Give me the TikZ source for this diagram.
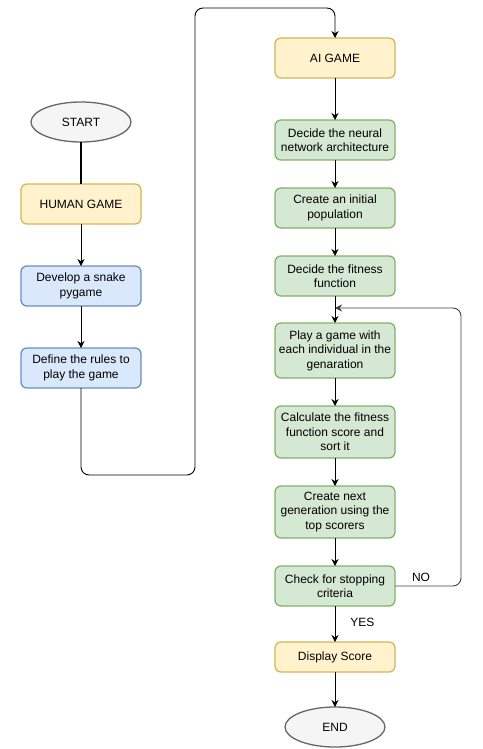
\documentclass[tikz,border=0pt]{standalone}
\usepackage{fontspec}
\setmainfont{Liberation Sans}
\usetikzlibrary{shapes.geometric, arrows.meta}
\usetikzlibrary{positioning}
\definecolor{yelfill}{HTML}{FFF2CC}
\definecolor{yeldraw}{HTML}{D6B656}
\definecolor{bluefill}{HTML}{DAE8FC}
\definecolor{bluedraw}{HTML}{6C8EBF}
\definecolor{greenfill}{HTML}{D5E8D4}
\definecolor{greendraw}{HTML}{82B366}
\definecolor{greyfill}{HTML}{F5F5F5}
\definecolor{greydraw}{HTML}{666666}
\tikzstyle{termnode}=[draw=greydraw, ellipse, fill=greyfill, line width=1.3pt,
					minimum width=100pt, minimum height=40pt, text centered]
\begin{document}
\begin{tikzpicture}[
 font=\fontsize{12}{14.5}\selectfont,
 every node/.style={outer sep=0pt},
 boxnode/.style={rectangle, rounded corners=6pt, line width=1.3pt, minimum width=120pt, align=center, inner sep=2pt},
 yelnode/.style={boxnode, draw=yeldraw, fill=yelfill, minimum height=40pt},
 bluenode/.style={boxnode, draw=bluedraw, fill=bluefill, minimum height=40pt},
 greennode/.style={boxnode, draw=greendraw, fill=greenfill, minimum height=40pt},
 arr/.style={-{Stealth[length=7pt,width=7pt]}, line width=0.9pt},
 node distance=42pt and 0pt
 ]
 \useasboundingbox (0,0) rectangle (482pt,-749pt);
 %Nodes
 \node[termnode]      (start_node)  at (81pt,-122pt) {START};
 \node[yelnode]       (human_node)  [below=of start_node] {HUMAN GAME};
 \node[bluenode]      (develop_node)  [below=of human_node] {Develop a snake\\pygame};
 \node[bluenode]      (rules_node)  [below=of develop_node] {Define the rules to\\play the game};

 \node[yelnode]       (ai_node)  at (335pt,-58pt) {AI GAME};
 \node[greennode]     (arch_node)  [below=of ai_node] {Decide the neural\\network architecture};
 \node[greennode]     (pop_node)  [below=28pt of arch_node] {Create an initial\\population};
 \node[greennode]     (fit_node)  [below=28pt of pop_node] {Decide the fitness\\function};
 \node[greennode, minimum height=55pt] (play_node)  [below=27pt of fit_node] {Play a game with\\each individual in the\\genaration};
 \node[greennode, minimum height=52pt] (score_node)  [below=28pt of play_node] {Calculate the fitness\\function score and\\sort it};
 \node[greennode, minimum height=52pt] (next_node)  [below=28pt of score_node] {Create next\\generation using the\\top scorers};
 \node[greennode]     (check_node)  [below=28pt of next_node] {Check for stopping\\criteria};
 \node[yelnode, minimum height=30pt] (show_node)  [below=36pt of check_node] {Display Score};
 \node[termnode]      (end_node)  [below=35pt of show_node] {END};

 \coordinate (turn_a) at (195pt,-475pt);
 \coordinate (turn_b) at (195pt,-8pt);
 \coordinate (back_node) at (461pt,-308pt);

 %Lines
 \draw[line width=1.8pt] (start_node) -- (human_node);
 \draw[arr] (human_node) -- (develop_node);
 \draw[arr] (develop_node) -- (rules_node);
 \draw[arr, rounded corners=8pt] (rules_node.south) |- (turn_a) -- (turn_b) -| (ai_node.north);
 \draw[arr] (ai_node) -- (arch_node);
 \draw[arr] (arch_node) -- (pop_node);
 \draw[arr] (pop_node) -- (fit_node);
 \draw[arr] (fit_node) -- (play_node);
 \draw[arr] (play_node) -- (score_node);
 \draw[arr] (score_node) -- (next_node);
 \draw[arr] (next_node) -- (check_node);
 \draw[arr] (check_node) -- node[right=12pt, pos=0.45] {YES} (show_node);
 \draw[arr] (show_node) -- (end_node);
 \draw[arr, draw=black!75, rounded corners=8pt] (check_node.east) -| (back_node) -- (play_node.north |- back_node);
 \node (no_node) at (421pt,-577pt) {NO};
\end{tikzpicture}
\end{document}
